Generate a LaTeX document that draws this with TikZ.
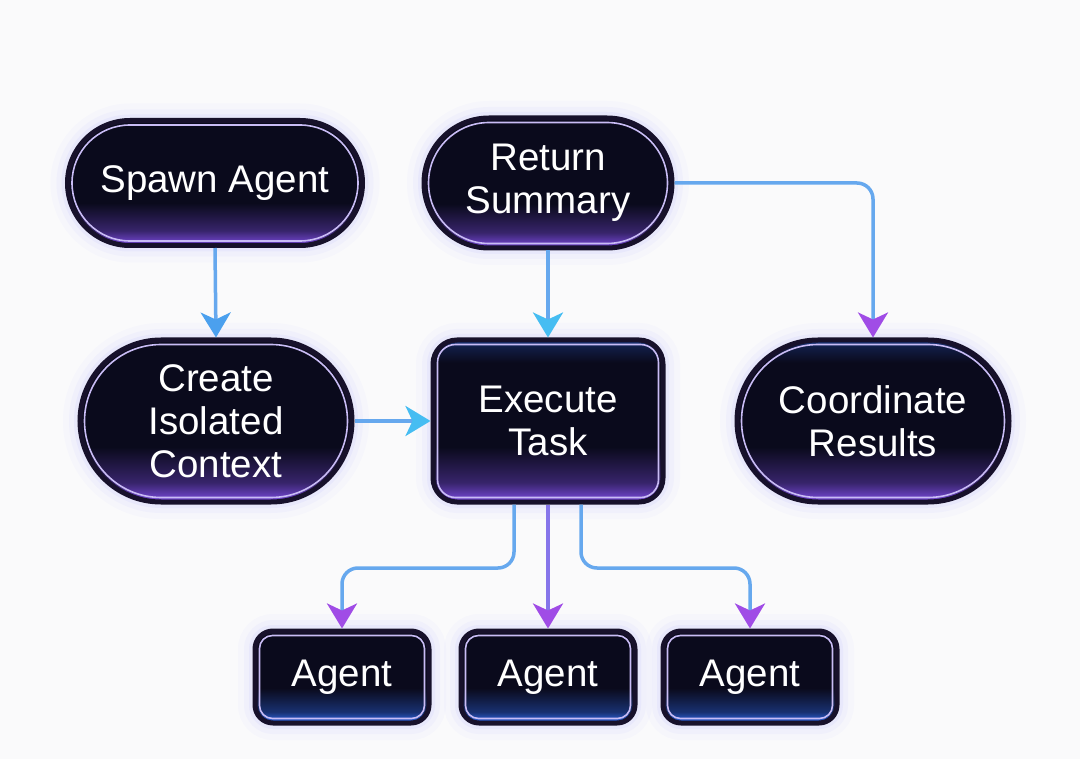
\documentclass[tikz,border=0pt]{standalone}
\usepackage{fontspec}
\setmainfont{Liberation Sans}
\usepackage{xcolor}
\usepackage{tikz}
\usetikzlibrary{arrows.meta, positioning, shapes.misc, calc}

\definecolor{pagebg}{HTML}{FAFAFB}
\definecolor{nodebg}{HTML}{0A0A1C}
\definecolor{nodeedge}{HTML}{17112B}
\definecolor{nodeline}{HTML}{C9BCF5}
\definecolor{glowpurple}{HTML}{7B4BE0}
\definecolor{glowblue}{HTML}{2F6BF0}
\definecolor{flowblue}{HTML}{66A8EE}
\definecolor{tipblue}{HTML}{4BA0EE}
\definecolor{tipcyan}{HTML}{46BDF2}
\definecolor{tippurple}{HTML}{A04CE6}
\definecolor{haloblue}{HTML}{8C8CFF}

\pgfdeclareverticalshading{purplebase}{100bp}{color(0bp)=(glowpurple); color(25bp)=(glowpurple); color(31bp)=(glowpurple!40!nodebg); color(42bp)=(nodebg); color(100bp)=(nodebg)}
\pgfdeclareverticalshading{bothglow}{100bp}{color(0bp)=(glowpurple); color(25bp)=(glowpurple); color(31bp)=(glowpurple!40!nodebg); color(42bp)=(nodebg); color(68bp)=(nodebg); color(73bp)=(glowblue!20!nodebg); color(75bp)=(glowblue!55!nodebg); color(100bp)=(glowblue!55!nodebg)}
\pgfdeclareverticalshading{bluebase}{100bp}{color(0bp)=(glowblue); color(25bp)=(glowblue); color(31bp)=(glowblue!40!nodebg); color(44bp)=(nodebg); color(100bp)=(nodebg)}

\newcommand{\labelfont}{\fontsize{38.5}{43}\selectfont}

\tikzset{
  glow/.style={preaction={draw=haloblue, line width=34pt, opacity=0.03},
               preaction={draw=haloblue, line width=22pt, opacity=0.05},
               preaction={draw=haloblue, line width=12pt, opacity=0.08}},
  pill/.style={rounded rectangle, glow, draw=nodeedge, line width=5pt,
               shading=purplebase, text=white, align=center, font=\labelfont, inner sep=0pt},
  pillline/.style={rounded rectangle, draw=nodeline, line width=1.6pt, inner sep=0pt},
  card/.style={rectangle, rounded corners=24pt, glow, draw=nodeedge, line width=5pt,
               shading=purplebase, text=white, align=center, font=\labelfont, inner sep=0pt},
  cardline/.style={rectangle, rounded corners=18pt, draw=nodeline, line width=1.6pt, inner sep=0pt},
  agentbox/.style={card, rounded corners=18pt, shading=bluebase},
  agentline/.style={cardline, rounded corners=13pt},
  flow/.style={draw=flowblue, line width=3.5pt, rounded corners=16pt},
  tip/.style={-{Stealth[length=25pt, width=30pt, inset=7pt, color=#1]}},
}

\begin{document}
\begin{tikzpicture}[x=1pt, y=-1pt]
    % page
    \useasboundingbox[fill=pagebg] (0,0) rectangle (1080,759);
    % top row
    \node[pill, minimum width=295, minimum height=125] (spawn) at (215,183) {Spawn Agent};
    \node[pillline, minimum width=286, minimum height=116] at (spawn) {};
    \node[pill, minimum width=248, minimum height=130] (ret) at (548,183) {Return\\Summary};
    \node[pillline, minimum width=239, minimum height=121] at (ret) {};
    % middle row
    \node[pill, minimum width=272, minimum height=162] (create) at (216,421) {Create\\Isolated\\Context};
    \node[pillline, minimum width=263, minimum height=153] at (create) {};
    \node[card, shading=bothglow, minimum width=230, minimum height=162] (exec) at (548,421) {Execute\\Task};
    \node[cardline, minimum width=221, minimum height=153] at (exec) {};
    \node[pill, shading=bothglow, minimum width=272, minimum height=162] (coord) at (873,421) {Coordinate\\Results};
    \node[pillline, minimum width=263, minimum height=153] at (coord) {};
    % agents
    \foreach \i/\x in {1/342, 2/548, 3/750} {
      \node[agentbox, minimum width=174, minimum height=92] (a\i) at (\x,677) {Agent};
      \node[agentline, minimum width=165, minimum height=83] at (a\i) {};
    }
    % split level below Execute Task
    \coordinate (split) at (548,568);
    % connectors
    \draw[flow, tip=tipblue] (spawn.south) -- (create.north);
    \draw[flow, tip=tipcyan] (ret.south) -- (exec.north);
    \draw[flow, tip=tipcyan] (create.east) -- (exec.west);
    \draw[flow, tip=tippurple] (ret.east) -| (coord.north);
    \draw[flow, tip=tippurple] ([xshift=-34pt]exec.south) |- (a1.north |- split) -- (a1.north);
    \draw[flow, draw=flowblue!45!tippurple, tip=tippurple] (exec.south) -- (a2.north);
    \draw[flow, tip=tippurple] ([xshift=33pt]exec.south) |- (a3.north |- split) -- (a3.north);
\end{tikzpicture}
\end{document}
